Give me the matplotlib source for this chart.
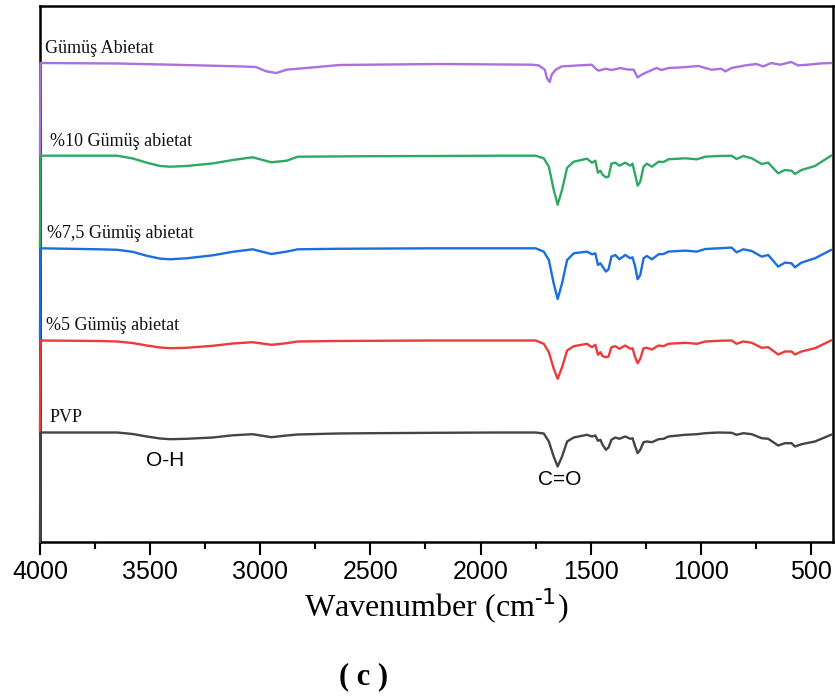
import matplotlib
matplotlib.use("Agg")
import matplotlib.pyplot as plt
from matplotlib.ticker import MultipleLocator
import numpy as np

# FTIR spektrumlari (dalga sayisi, cm-1) - piklerin derinligi taban cizgisine gore
wn = [4000, 3998, 3730, 3650, 3580, 3515, 3455, 3410, 3335, 3215, 3125, 3035,
      2950, 2880, 2830, 2650, 2500, 2200,
      1917, 1750, 1713, 1690, 1668, 1650, 1630, 1607, 1577, 1517, 1494, 1479, 1467, 1456, 1446,
      1431, 1419, 1406, 1388, 1370, 1343, 1320, 1310, 1298, 1287, 1275, 1260, 1245, 1222, 1192,
      1169, 1147, 1071, 1018, 980, 920, 860, 838, 807, 769, 724, 694, 649, 618, 588,
      573, 543, 482, 409]

dip_10 = [92.6, 0, 0, 0, 2.7, 7, 10.3, 11, 10.3, 7.7, 4.3, 1.6,
          6.6, 5, 1, 0.7, 0.5, 0.3,
          0, 0, 2.6, 11, 34, 49, 34, 12, 6, 3, 7, 5, 17, 15, 19,
          21.6, 21, 8, 7, 10, 7, 10, 8, 19, 30, 26, 11, 8, 11, 6,
          6.3, 3.6, 2.6, 3.6, 1, 0.3, 0, 3.3, 0.3, 2.6, 8.3, 7, 17.6, 14.3, 15,
          18.3, 14.3, 10.3, 0]

dip_75 = [92.2, 0, 1, 1.5, 3.5, 7.5, 10.3, 11, 10, 7, 3.5, 1,
          5.7, 3.3, 1, 0.5, 0.3, 0,
          0, 0, 3.3, 11.7, 35, 50.7, 35, 11.7, 5, 3.3, 6, 5, 16.7, 15, 18.3,
          23.3, 21, 8.3, 6.7, 11, 6.7, 10, 9, 18.3, 31, 26.7, 10, 7.7, 11, 6,
          5.7, 3.3, 2.3, 3.3, 0.7, 0, -0.7, 4, 1, 2.7, 8.3, 6.7, 18.3, 14.3, 15,
          19, 14.3, 10, 1.7]

dip_5 = [92, 0, 0.5, 1, 2.5, 5, 7, 7.7, 7.3, 5.3, 3, 1.7,
         4.3, 2.7, 1, 0.5, 0.3, 0,
         0, 0, 3.3, 11.7, 28, 38.3, 26.7, 10, 5.7, 3.3, 6.7, 4.3, 14.3, 11.7, 15.7,
         16.7, 16, 6.7, 5.7, 8.3, 5, 8.3, 7.7, 16.7, 22.7, 18.3, 7.7, 7.3, 9, 5,
         5.7, 3.3, 2.3, 3.3, 1, 0.3, 0, 3.3, 1, 2.3, 7.3, 6.7, 14, 11, 11,
         14, 11, 7.7, 0]

dip_pvp = [109.5, 0, 0, 0, 1.5, 4, 6, 6.7, 6.3, 5, 2.8, 1.7,
           4.7, 3, 2, 1, 0.7, 0.3,
           0, 0, 1, 9, 24, 34, 24, 9, 5, 2.3, 4, 3, 8.3, 7.3, 12.3,
           17.3, 15, 7.3, 5, 6.3, 4, 6.3, 5.7, 14, 20.7, 17.3, 9.7, 9, 9.7, 6.7,
           6.3, 4, 2.3, 1.7, 0.7, 0, 0.3, 2.3, 0.7, 1.7, 5.7, 6.3, 13, 10.7, 10.7,
           14, 11.7, 9, 2.3]

wn_ag = [4000, 3998, 3650, 3400, 3094, 3020, 2972, 2927, 2881, 2791,
         2641, 2188, 1767, 1736, 1708, 1699, 1686, 1677, 1659, 1631,
         1554, 1495, 1477, 1464, 1432, 1405, 1364, 1337, 1305, 1287,
         1269, 1237, 1201, 1178, 1147, 1088, 1011, 952, 907, 889,
         861, 798, 748, 717, 680, 640, 590, 558, 513, 454, 409]
dip_ag = [92.7, 0, 0.5, 1.7, 3.4, 4, 8.4, 10, 6.7, 5,
          2, 1, 1.7, 2.4, 6.7, 15, 19, 11.7, 6.7, 3.4,
          2.4, 1.7, 5.7, 7.7, 5.7, 7, 5, 6.4, 6.7, 14.4,
          11.7, 8.4, 5, 7, 5, 4.4, 3, 6.7, 5.7, 8.4,
          5, 2.4, 1, 3.4, 0, 1.7, -1, 2.4, 1.7, 0.4, 0]

etiketler = ["Gümüş Abietat", "%10 Gümüş abietat", "%7,5 Gümüş abietat",
             "%5 Gümüş abietat", "PVP"]
kaydirma = [479, 386.3, 293.7, 201.5, 109.5]
renkler = ["#AA70DD", "#2EA862", "#1C6EDE", "#EE3A3A", "#444444"]
seriler = [(wn_ag, dip_ag), (wn, dip_10), (wn, dip_75), (wn, dip_5), (wn, dip_pvp)]
etiket_x = [3978, 3955, 3968, 3972, 3958]

fig = plt.figure(figsize=(8.35, 6.98), dpi=100)
ax = fig.add_axes([40 / 835, 156 / 698, 793 / 835, 536 / 698])

for (x, d), off, c, lab, lx in zip(seriler, kaydirma, renkler, etiketler, etiket_x):
    y = off - np.array(d)
    ax.plot(x, y, color=c, lw=1.7, zorder=3, clip_on=False, solid_joinstyle="round")
    ax.text(lx, off + 6, lab, family="Liberation Serif", fontsize=13,
            ha="left", va="bottom", color="#111111")

ax.text(3430, kaydirma[4] - 28, "O-H", family="Liberation Sans", fontsize=15,
        ha="center", va="center")
ax.text(1640, kaydirma[4] - 47, "C=O", family="Liberation Sans", fontsize=15,
        ha="center", va="center")

ax.set_xlim(4000, 400)
ax.set_ylim(0, 536)
ax.set_yticks([])
ax.xaxis.set_major_locator(MultipleLocator(500))
ax.xaxis.set_minor_locator(MultipleLocator(250))
ax.tick_params(axis="x", which="major", direction="out", length=9, width=1.5,
               labelsize=18, pad=4)
ax.tick_params(axis="x", which="minor", direction="out", length=5, width=1.5)
for lbl in ax.get_xticklabels():
    lbl.set_family("Liberation Sans")
for s in ax.spines.values():
    s.set_linewidth(1.8)

ax.set_xlabel("Wavenumber (cm$^{\\mathregular{\u2010}1}$)", family="Liberation Serif",
              fontsize=23, labelpad=2)
fig.text(0.436, 0.03, "( c )", family="Liberation Serif", fontsize=22,
         fontweight="bold", ha="center", va="center")

fig.savefig("out.png", dpi=100)
